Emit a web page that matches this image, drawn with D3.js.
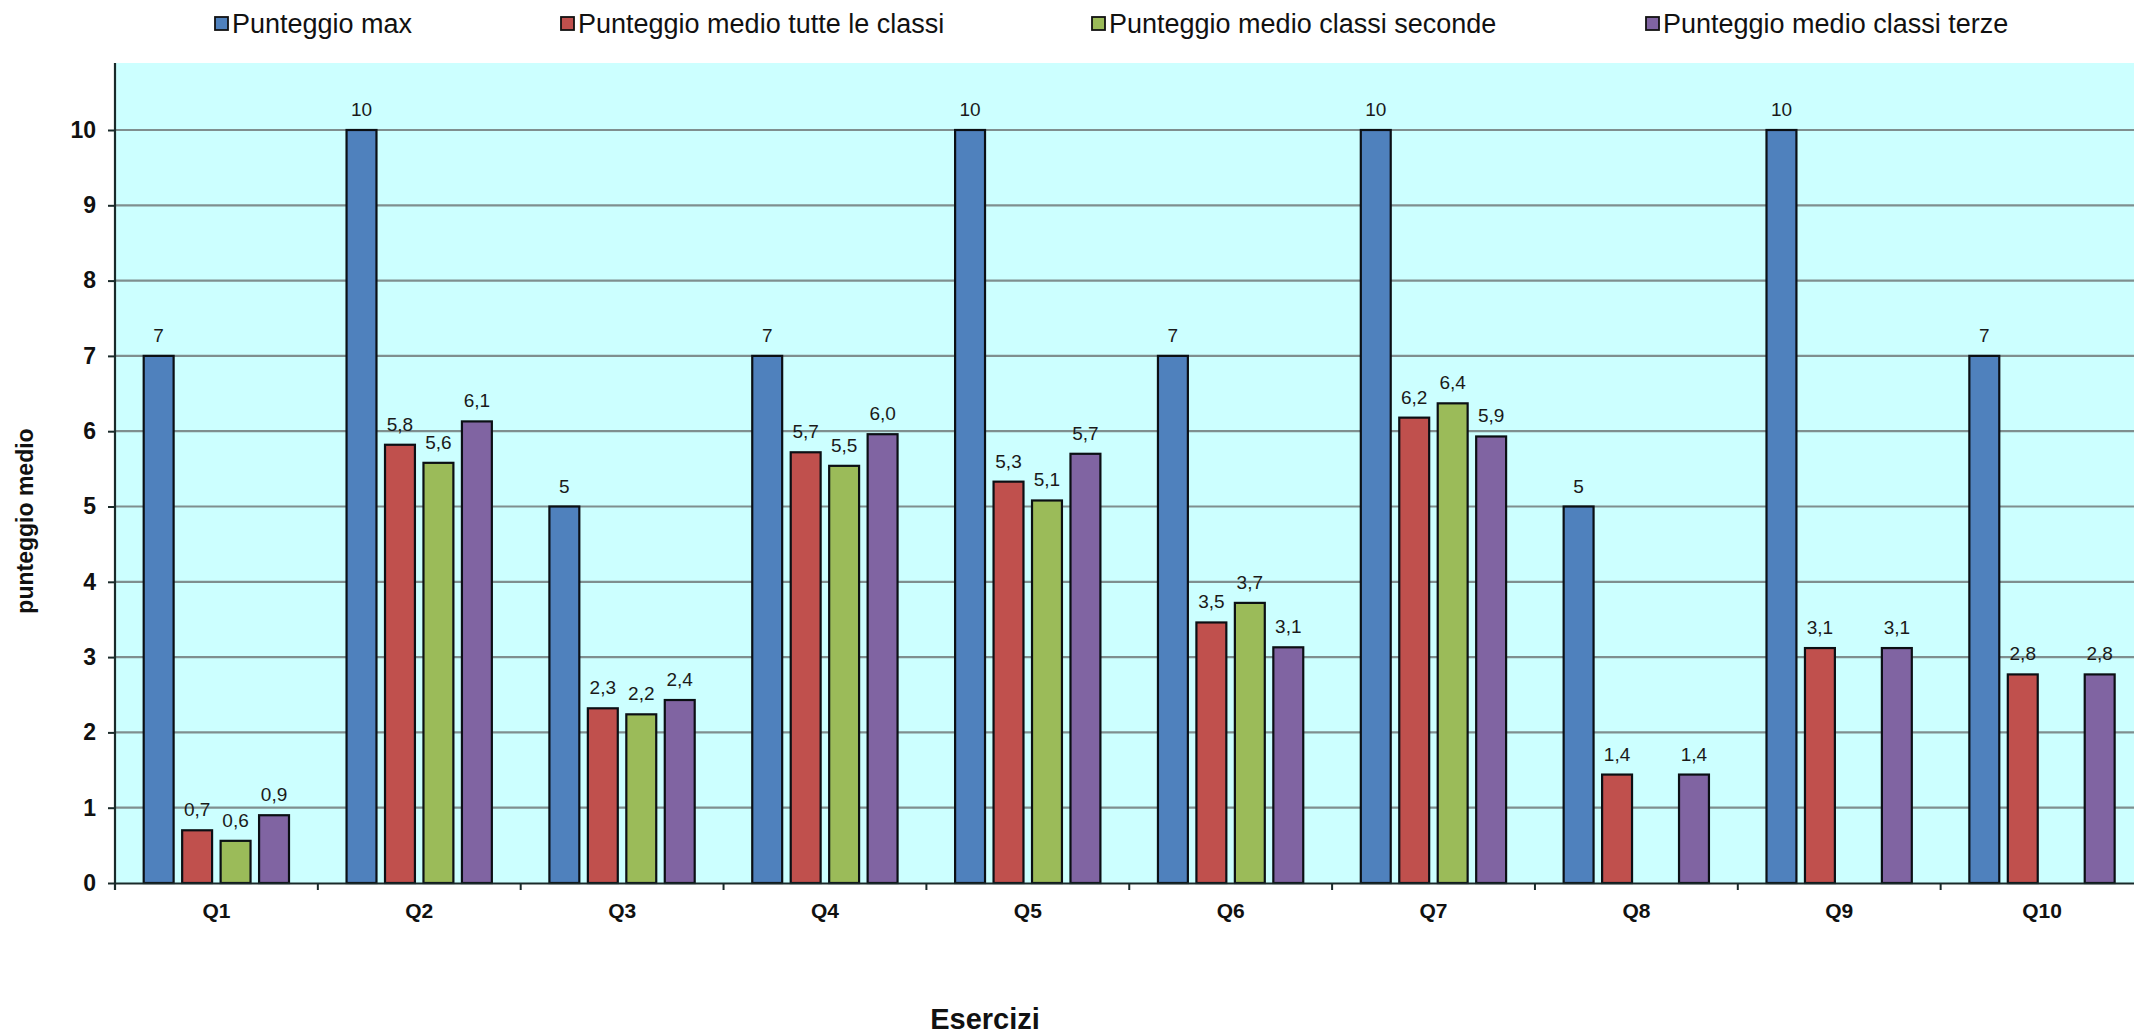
<!DOCTYPE html>
<html>
<head>
<meta charset="utf-8">
<script src="https://cdn.jsdelivr.net/npm/d3@7"></script>
<style>
  html, body { margin: 0; padding: 0; background: #ffffff; }
  svg { display: block; }
  text { font-family: "Liberation Sans", Arial, sans-serif; }
</style>
</head>
<body>
<svg id="chart" width="2134" height="1035"></svg>
<script>
// ---- data ----
const categories = ["Q1", "Q2", "Q3", "Q4", "Q5", "Q6", "Q7", "Q8", "Q9", "Q10"];
const seriesNames = [
  "Punteggio max",
  "Punteggio medio tutte le classi",
  "Punteggio medio classi seconde",
  "Punteggio medio classi terze"
];
const puntMax     = [7, 10, 5, 7, 10, 7, 10, 5, 10, 7];
const mediaTutte  = [0.70, 5.82, 2.32, 5.72, 5.33, 3.46, 6.18, 1.44, 3.12, 2.77];
const mediaSeconde= [0.56, 5.58, 2.24, 5.54, 5.08, 3.72, 6.37, null, null, null];
const mediaTerze  = [0.90, 6.13, 2.43, 5.96, 5.70, 3.13, 5.93, 1.44, 3.12, 2.77];
const yTicks = [0, 1, 2, 3, 4, 5, 6, 7, 8, 9, 10];
const seriesValues = [puntMax, mediaTutte, mediaSeconde, mediaTerze];
const colors = ["#4F81BD", "#C0504D", "#9BBB59", "#8064A2"];

// ---- layout ----
const svg = d3.select("#chart");
const left = 115, plotTop = 63, bottom = 883, catW = 202.85;
const right = left + catW * categories.length;

const x0 = d3.scaleBand().domain(categories).range([left, right]).padding(0);
const x1 = d3.scaleBand().domain(d3.range(seriesNames.length)).range([27.7, 175]).paddingInner(0.17);
const y = d3.scaleLinear().domain([0, 10]).range([bottom, bottom - 10 * 75.3]);

// background
svg.append("rect").attr("x", left).attr("y", plotTop)
  .attr("width", right - left).attr("height", bottom - plotTop)
  .attr("fill", "#CCFFFF");

// gridlines
svg.append("g").selectAll("line").data(yTicks.filter(d => d > 0)).join("line")
  .attr("x1", left).attr("x2", right)
  .attr("y1", d => y(d)).attr("y2", d => y(d))
  .attr("stroke", "#7f8f8f").attr("stroke-width", 2.2);

// bars
const barData = [];
categories.forEach((c, ci) => {
  seriesValues.forEach((arr, si) => {
    if (arr[ci] !== null && arr[ci] !== undefined) barData.push({ c, si, v: arr[ci] });
  });
});
const fmt = v => Number.isInteger(v) ? String(v) : v.toFixed(1).replace(".", ",");

svg.append("g").selectAll("rect").data(barData).join("rect")
  .attr("x", d => x0(d.c) + x1(d.si) + 1)
  .attr("width", x1.bandwidth() - 2)
  .attr("y", d => y(d.v))
  .attr("height", d => y(0) - y(d.v))
  .attr("fill", d => colors[d.si])
  .attr("stroke", "#0b0f14").attr("stroke-width", 2.2);

svg.append("g").selectAll("text").data(barData).join("text")
  .attr("x", d => x0(d.c) + x1(d.si) + x1.bandwidth() / 2)
  .attr("y", d => y(d.v) - 14)
  .attr("text-anchor", "middle")
  .attr("font-size", 19)
  .attr("fill", "#1a1a1a")
  .text(d => fmt(d.v));

// y axis
const yAxis = d3.axisLeft(y).tickValues(yTicks).tickSize(7).tickPadding(12).tickFormat(d3.format("d"));
const gy = svg.append("g").attr("transform", `translate(${left},0)`).call(yAxis);
gy.select(".domain").remove();
gy.selectAll(".tick line").attr("stroke", "#1a2a2a").attr("stroke-width", 2);
gy.selectAll(".tick text").attr("font-size", 23).attr("font-weight", "bold").attr("fill", "#111")
  .style("font-family", '"Liberation Sans", Arial, sans-serif');
svg.append("line").attr("x1", left).attr("x2", left).attr("y1", plotTop).attr("y2", bottom + 7)
  .attr("stroke", "#1a2a2a").attr("stroke-width", 2.2);

// x axis
const gx = svg.append("g").attr("transform", `translate(0,${bottom})`)
  .call(d3.axisBottom(x0).tickSize(0).tickPadding(20));
gx.select(".domain").attr("stroke", "#1a2a2a").attr("stroke-width", 2.2);
gx.selectAll(".tick text").attr("font-size", 21).attr("font-weight", "bold").attr("fill", "#111")
  .style("font-family", '"Liberation Sans", Arial, sans-serif');
// category boundary ticks
svg.append("g").selectAll("line").data(categories).join("line")
  .attr("x1", d => x0(d) + catW).attr("x2", d => x0(d) + catW)
  .attr("y1", bottom).attr("y2", bottom + 7)
  .attr("stroke", "#1a2a2a").attr("stroke-width", 2);

// axis titles
svg.append("text")
  .attr("transform", "translate(25,521) rotate(-90)")
  .attr("text-anchor", "middle").attr("dominant-baseline", "central")
  .attr("font-size", 23).attr("font-weight", "bold").attr("fill", "#111")
  .text("punteggio medio");
svg.append("text")
  .attr("x", 985).attr("y", 1029)
  .attr("text-anchor", "middle")
  .attr("font-size", 29).attr("font-weight", "bold").attr("fill", "#111")
  .text("Esercizi");

// legend
const legendX = [215, 561, 1092, 1646];
const lg = svg.append("g").selectAll("g").data(seriesNames).join("g")
  .attr("transform", (d, i) => `translate(${legendX[i]},0)`);
lg.append("rect").attr("x", 0).attr("y", 17).attr("width", 13).attr("height", 13)
  .attr("fill", (d, i) => colors[i]).attr("stroke", "#111").attr("stroke-width", 1.8);
lg.append("text").attr("x", 17).attr("y", 33)
  .attr("font-size", 27).attr("fill", "#111")
  .text(d => d);
</script>
</body>
</html>
